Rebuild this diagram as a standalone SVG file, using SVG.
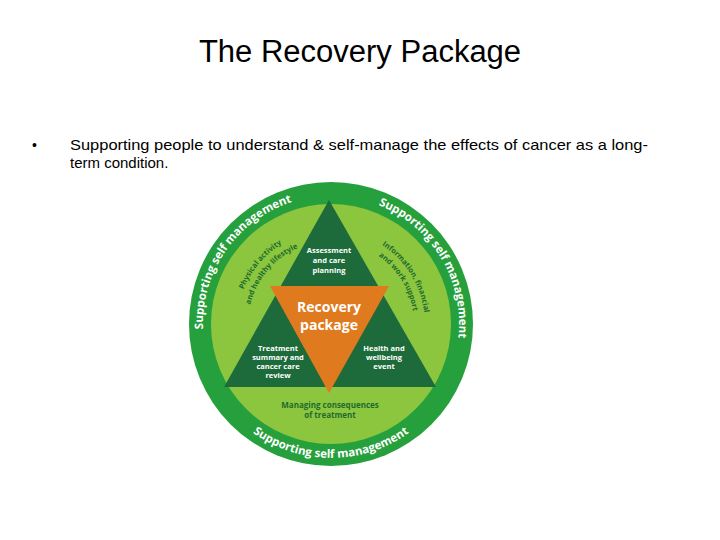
<svg xmlns="http://www.w3.org/2000/svg" width="720" height="540" viewBox="0 0 720 540">
<style>
.w{fill:#fff;font-family:"Open Sans","DejaVu Sans",sans-serif;font-weight:bold;text-anchor:middle}
.band{font-size:11.5px}
.tri{font-size:7.5px}
.dg{fill:#1e6b2e;font-family:"Open Sans","DejaVu Sans",sans-serif;font-weight:bold;text-anchor:middle;font-size:8px}
.arc{font-size:7.5px}
.body{font-family:"Liberation Sans",Arial,sans-serif;fill:#000}
</style>
<defs>
<path id="tl" d="M220.1,388 A128,128 0 0 1 353.2,197.9"/>
<path id="tr" d="M317.6,196.6 A128,128 0 0 1 437.1,395.6"/>
<path id="bt" d="M209.6,380.6 A134,134 0 0 0 452.4,380.6"/>
<path id="l1" d="M242.7,356.1 A94,94 0 0 1 347.3,231.4"/>
<path id="l2" d="M253,352.4 A83,83 0 0 1 345.4,242.3"/>
<path id="r1" d="M327.7,230.1 A94,94 0 0 1 414,368.1"/>
<path id="r2" d="M328.1,241.1 A83,83 0 0 1 404.3,363"/>
</defs>
<rect width="720" height="540" fill="#fff"/>
<text x="360" y="62" class="body" font-size="31" text-anchor="middle">The Recovery Package</text>
<text x="32" y="150" class="body" font-size="14">•</text>
<text x="70" y="150" class="body" font-size="15" textLength="578" lengthAdjust="spacingAndGlyphs">Supporting people to understand &amp; self-manage the effects of cancer as a long-</text>
<text x="70" y="168" class="body" font-size="15">term condition.</text>
<g id="outer">
<circle cx="331" cy="324" r="142" fill="#26a03c"/>
<circle cx="331" cy="324" r="120" fill="#8cc63f"/>
</g>
<g id="band-text">
<text class="w band"><textPath href="#tl" startOffset="50%">Supporting self management</textPath></text>
<text class="w band"><textPath href="#tr" startOffset="50%">Supporting self management</textPath></text>
<text class="w band"><textPath href="#bt" startOffset="50%">Supporting self management</textPath></text>
</g>
<g id="physical">
<text class="dg arc"><textPath href="#l1" startOffset="50%">Physical activity</textPath></text>
<text class="dg arc"><textPath href="#l2" startOffset="50%">and healthy lifestyle</textPath></text>
</g>
<g id="information">
<text class="dg arc"><textPath href="#r1" startOffset="50%">Information, financial</textPath></text>
<text class="dg arc"><textPath href="#r2" startOffset="50%">and work support</textPath></text>
</g>
<g id="managing">
<text x="330" y="408" class="dg">Managing consequences</text>
<text x="330" y="418" class="dg">of treatment</text>
</g>
<g id="triangle">
<polygon points="329,200 224,387 436,387" fill="#1d6b3a"/>
</g>
<g id="recovery">
<polygon points="270,286 389,286 329,393" fill="#e07a1f"/>
<text x="329" y="312" class="w" font-size="14">Recovery</text>
<text x="329" y="330" class="w" font-size="14">package</text>
</g>
<g id="assessment">
<text x="329" y="253" class="w tri">Assessment</text>
<text x="329" y="263" class="w tri">and care</text>
<text x="329" y="273" class="w tri">planning</text>
</g>
<g id="treatment">
<text x="278" y="351" class="w tri">Treatment</text>
<text x="278" y="360" class="w tri">summary and</text>
<text x="278" y="369" class="w tri">cancer care</text>
<text x="278" y="378" class="w tri">review</text>
</g>
<g id="health">
<text x="384" y="351" class="w tri">Health and</text>
<text x="384" y="360" class="w tri">wellbeing</text>
<text x="384" y="369" class="w tri">event</text>
</g>
<g id="connectors"/>
</svg>
